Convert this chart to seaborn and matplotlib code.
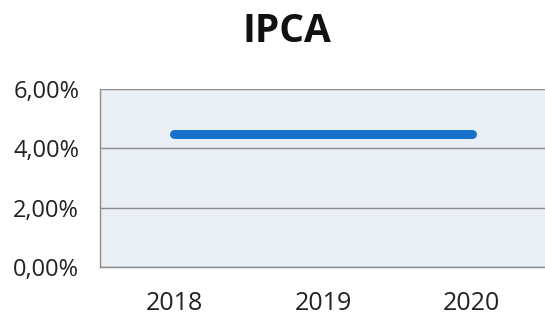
import matplotlib
matplotlib.use("Agg")
import matplotlib.pyplot as plt
import seaborn as sns
import pandas as pd
from matplotlib.ticker import FuncFormatter

years = ["2018", "2019", "2020"]
ipca = [4.5, 4.5, 4.5]
yticks = [0, 2, 4, 6]

sns.set_theme(style="white")
plt.rcParams['font.family'] = ['Open Sans', 'DejaVu Sans']

df = pd.DataFrame({"Ano": years, "IPCA": ipca})

fig = plt.figure(figsize=(5.45, 3.15), dpi=100)
fig.patch.set_facecolor("white")
ax = fig.add_axes([100/545, 1-267/315, 446/545, (267-89)/315])
ax.set_facecolor("#eaeff5")

sns.lineplot(data=df, x="Ano", y="IPCA", ax=ax, color="#1670cc", linewidth=6.5,
             solid_capstyle="round", sort=False)

ax.set_xlim(-0.5, 2.5)
ax.set_ylim(0, 6)
ax.set_yticks(yticks)
ax.yaxis.set_major_formatter(FuncFormatter(lambda v, p: f"{v:.2f}%".replace(".", ",")))
ax.grid(axis="y", color="#8c8c8c", linewidth=1)
ax.set_axisbelow(True)
for s in ["top", "right"]:
    ax.spines[s].set_visible(False)
for s in ["left", "bottom"]:
    ax.spines[s].set_color("#8c8c8c")
    ax.spines[s].set_linewidth(1)
ax.tick_params(axis="y", labelsize=17, pad=15, length=0, colors="#222222")
ax.tick_params(axis="x", labelsize=18, pad=17, length=0, colors="#222222")
ax.set_xlabel("")
ax.set_ylabel("")

fig.text(0.527, 1-31/315, "IPCA", ha="center", va="center", fontsize=28, fontweight="bold", color="#111111")

fig.savefig("out.png", dpi=100)
